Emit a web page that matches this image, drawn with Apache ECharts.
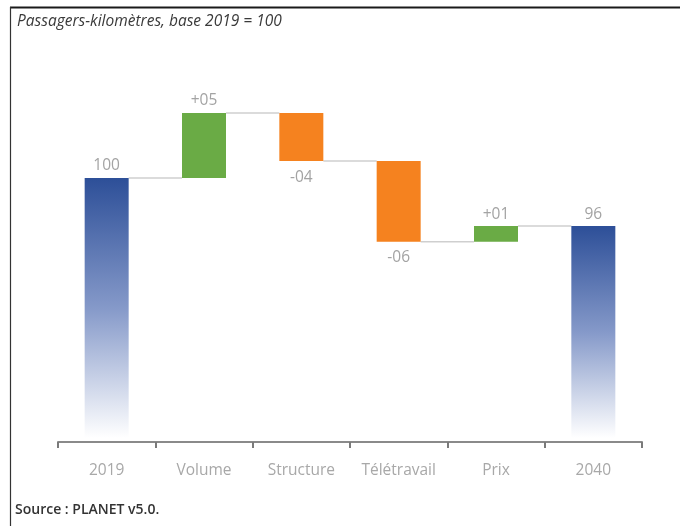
<!DOCTYPE html>
<html>
<head>
<meta charset="utf-8">
<script src="https://cdn.jsdelivr.net/npm/echarts@6/dist/echarts.min.js"></script>
<style>
html,body{margin:0;padding:0;background:#fff;}
#c{width:680px;height:526px;}
</style>
</head>
<body>
<div id="c"></div>
<script>
var categories = ['2019', 'Volume', 'Structure', 'Télétravail', 'Prix', '2040'];
var startTotal = 100;
var steps = [5, -3.7, -6.2, 1.2];
var endTotal = 96.3;
var labelTexts = ['100', '+05', '-04', '-06', '+01', '96'];
var axisMin = 80, axisMax = 110;

var lows = [], highs = [], kinds = [], levels = [];
lows.push(axisMin); highs.push(startTotal); kinds.push('total'); levels.push(startTotal);
var run = startTotal;
steps.forEach(function (d) {
  var next = run + d;
  lows.push(Math.min(run, next));
  highs.push(Math.max(run, next));
  kinds.push(d >= 0 ? 'up' : 'down');
  run = next;
  levels.push(run);
});
lows.push(axisMin); highs.push(endTotal); kinds.push('total');

var blueGrad = new echarts.graphic.LinearGradient(0, 0, 0, 1, [
  {offset: 0, color: '#2d4f98'},
  {offset: 0.5, color: '#8599c9'},
  {offset: 1, color: '#ffffff'}
]);
var colorMap = {up: '#6aab45', down: '#f5821f'};
var BARW = 44;
var FONT = '"Open Sans", Lato, sans-serif';

var visibleData = highs.map(function (h, i) {
  var k = kinds[i];
  return {
    value: h - lows[i],
    itemStyle: {color: k === 'total' ? blueGrad : colorMap[k]},
    label: k === 'down' ? {position: 'bottom', distance: 8} : {position: 'top', distance: 4}
  };
});

var chart = echarts.init(document.getElementById('c'));
chart.setOption({
  animation: false,
  backgroundColor: '#fff',
  grid: {left: 58, right: 38, top: 48, bottom: 88},
  title: {
    text: 'Passagers-kilomètres, base 2019 = 100',
    left: 12, top: 9,
    textStyle: {fontFamily: FONT, fontStyle: 'italic', fontWeight: 'normal', fontSize: 15.5, color: '#3a3a3a'}
  },
  graphic: [
    {type: 'line', shape: {x1: 10, y1: 7.5, x2: 680, y2: 7.5}, style: {stroke: '#1a1a1a', lineWidth: 2}},
    {type: 'line', shape: {x1: 10.5, y1: 7, x2: 10.5, y2: 526}, style: {stroke: '#333', lineWidth: 1.2}},
    {type: 'text', left: 15, top: 503, style: {text: 'Source : PLANET v5.0.', fontFamily: FONT, fontSize: 14, fontWeight: 600, fill: '#333'}}
  ],
  xAxis: {
    type: 'category',
    data: categories,
    offset: 4,
    axisLine: {lineStyle: {color: '#8a8a8a', width: 2}},
    axisTick: {show: true, interval: 0, length: 6, lineStyle: {color: '#7a7a7a', width: 2}},
    axisLabel: {interval: 0, color: '#a8a8a8', fontFamily: FONT, fontSize: 15.5, margin: 21}
  },
  yAxis: {
    type: 'value', min: axisMin, max: axisMax,
    show: false, splitLine: {show: false}
  },
  series: [
    {
      type: 'bar', stack: 'w', barWidth: BARW,
      itemStyle: {color: 'transparent'},
      data: lows, silent: true
    },
    {
      type: 'bar', stack: 'w', barWidth: BARW,
      data: visibleData,
      label: {
        show: true,
        color: '#a3a3a3', fontFamily: FONT, fontSize: 15.5,
        formatter: function (p) { return labelTexts[p.dataIndex]; }
      }
    },
    {
      type: 'custom',
      silent: true,
      data: levels.map(function (v, i) { return [i, v]; }),
      renderItem: function (params, api) {
        var i = api.value(0), v = api.value(1);
        var p1 = api.coord([i, v]);
        var p2 = api.coord([i + 1, v]);
        return {
          type: 'line',
          shape: {x1: p1[0] + BARW / 2, y1: p1[1], x2: p2[0] - BARW / 2, y2: p2[1]},
          style: {stroke: '#cfcfcf', lineWidth: 1.5}
        };
      },
      z: 1
    }
  ]
});
</script>
</body>
</html>
